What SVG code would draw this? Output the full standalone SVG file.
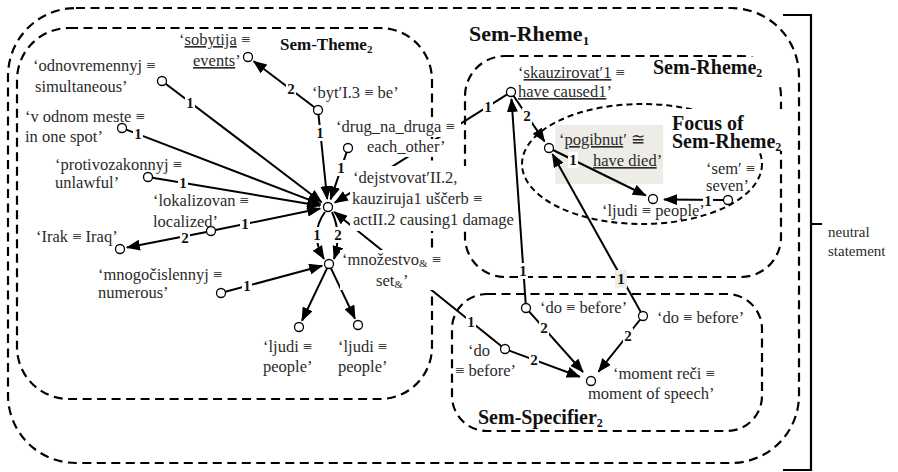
<svg xmlns="http://www.w3.org/2000/svg" width="898" height="472" viewBox="0 0 898 472">
  <defs>
    <marker id="arr" markerUnits="userSpaceOnUse" markerWidth="14" markerHeight="11" refX="13" refY="5.5" orient="auto">
      <path d="M0,0 L14,5.5 L0,11 z" fill="#000"/>
    </marker>
  </defs>
  <style>
    .region{fill:none;stroke:#000;stroke-width:2.2;stroke-dasharray:9 5.5}
    .focus{fill:none;stroke:#000;stroke-width:2;stroke-dasharray:6 4}
    .edge{fill:none;stroke:#000;stroke-width:2;marker-end:url(#arr)}
    .node{fill:#fff;stroke:#000;stroke-width:1.3}
    .lbl{font-family:"Liberation Serif","DejaVu Serif",serif;font-size:16.5px;fill:#2b2b2b}
    .num{font-family:"Liberation Serif","DejaVu Serif",serif;font-size:15px;font-weight:bold;fill:#111;text-anchor:middle}
    .title{font-family:"Liberation Serif","DejaVu Serif",serif;font-weight:bold;fill:#111}
    .small{font-family:"Liberation Serif","DejaVu Serif",serif;font-size:15px;fill:#2b2b2b}
    .bg{fill:#fff}
    .u{text-decoration:underline}
    .sub{font-size:11px}
  </style>

  <!-- communicative regions -->
  <g id="regions">
    <rect id="sem-rheme1" class="region" x="8" y="8" width="791" height="455" rx="68" ry="68"/>
    <rect id="sem-theme2" class="region" x="17" y="28" width="415" height="371" rx="52" ry="52"/>
    <rect id="sem-rheme2" class="region" x="465" y="56" width="316" height="221" rx="40" ry="40"/>
    <rect id="sem-specifier2" class="region" x="452" y="294" width="310" height="137" rx="35" ry="35"/>
    <ellipse id="focus" class="focus" cx="642" cy="164" rx="120" ry="60"/>
    <rect x="555" y="125" width="108" height="59" fill="#eeece6"/>
  </g>

  <!-- region titles -->
  <g id="titles">
    <text class="title" x="469" y="41" font-size="22">Sem-Rheme<tspan font-size="13" dy="4">1</tspan></text>
    <text class="title" x="280" y="50" font-size="17">Sem-Theme<tspan font-size="11" dy="3">2</tspan></text>
    <rect class="bg" x="648" y="57" width="138" height="27"/>
    <text class="title" x="653" y="74" font-size="20">Sem-Rheme<tspan font-size="12" dy="3">2</tspan></text>
    <rect class="bg" x="669" y="109" width="118" height="42"/>
    <text class="title" x="672" y="130" font-size="20">Focus of</text>
    <text class="title" x="672" y="148" font-size="20">Sem-Rheme<tspan font-size="12" dy="3">2</tspan></text>
    <text class="title" x="478" y="424" font-size="20">Sem-Specifier<tspan font-size="12" dy="3">2</tspan></text>
  </g>

  <!-- connectors -->
  <g id="connectors">
    <line class="edge" x1="165.6" y1="83.7" x2="321.6" y2="202.2"/>
    <line class="edge" x1="126.2" y1="129.6" x2="320.5" y2="204.1"/>
    <line class="edge" x1="152.4" y1="177.7" x2="320.1" y2="205.7"/>
    <line class="edge" x1="215.4" y1="230.1" x2="320.2" y2="208.6"/>
    <line class="edge" x1="206.6" y1="231.9" x2="126.9" y2="247.6"/>
    <line class="edge" x1="318.5" y1="114.5" x2="327.2" y2="199"/>
    <line class="edge" x1="346.6" y1="152.3" x2="330.6" y2="199.4"/>
    <line class="edge" x1="507.2" y1="94.4" x2="334.8" y2="202.7"/>
    <line class="edge" x1="314.4" y1="107.3" x2="253.6" y2="61.2"/>
    <path class="edge" d="M325,212 Q309,234 324,259"/>
    <path class="edge" d="M332,212 Q342,234 334,259"/>
    <line class="edge" x1="501.5" y1="346.2" x2="334.2" y2="212"/>
    <line class="edge" x1="225.3" y1="291.8" x2="322.2" y2="265.8"/>
    <line class="edge" x1="327.1" y1="268.1" x2="302" y2="320.7"/>
    <line class="edge" x1="330.9" y1="268.1" x2="355" y2="318.7"/>
    <line class="edge" x1="513.5" y1="95.7" x2="544.5" y2="141.4"/>
    <line class="edge" x1="553" y1="150" x2="645.8" y2="195.5"/>
    <line class="edge" x1="723.5" y1="200" x2="664" y2="199.5"/>
    <line class="edge" x1="525.7" y1="303.5" x2="511.5" y2="99"/>
    <line class="edge" x1="640.8" y1="312.1" x2="552.4" y2="154.1"/>
    <line class="edge" x1="529" y1="311.4" x2="583" y2="372"/>
    <line class="edge" x1="640.2" y1="319.5" x2="598.5" y2="371.6"/>
    <line class="edge" x1="509.2" y1="350.6" x2="579.8" y2="376.8"/>

    <!-- argument numbers -->
    <g class="elabels">
      <rect class="bg" x="185" y="95" width="10" height="16"/><text class="num" x="190" y="108">1</text>
      <rect class="bg" x="133" y="126" width="10" height="16"/><text class="num" x="138" y="139">1</text>
      <rect class="bg" x="178" y="175" width="10" height="16"/><text class="num" x="183" y="188">1</text>
      <rect class="bg" x="240" y="216" width="10" height="16"/><text class="num" x="245" y="229">1</text>
      <rect class="bg" x="180" y="231" width="10" height="15"/><text class="num" x="185" y="243">2</text>
      <rect class="bg" x="315" y="125" width="10" height="16"/><text class="num" x="320" y="138">1</text>
      <rect class="bg" x="336" y="160" width="10" height="16"/><text class="num" x="341" y="173">1</text>
      <rect class="bg" x="483" y="99" width="10" height="16"/><text class="num" x="488" y="112">1</text>
      <rect class="bg" x="286" y="81" width="10" height="16"/><text class="num" x="291" y="94">2</text>
      <rect class="bg" x="312" y="227" width="10" height="16"/><text class="num" x="317" y="240">1</text>
      <rect class="bg" x="333" y="227" width="10" height="16"/><text class="num" x="338" y="240">2</text>
      <rect class="bg" x="466" y="314" width="10" height="16"/><text class="num" x="471" y="327">1</text>
      <rect class="bg" x="242" y="278" width="10" height="16"/><text class="num" x="247" y="291">1</text>
      <rect class="bg" x="522" y="108" width="10" height="16"/><text class="num" x="527" y="121">2</text>
      <rect class="bg" x="568" y="152" width="10" height="16"/><text class="num" x="573" y="165">1</text>
      <rect class="bg" x="703" y="194" width="10" height="14"/><text class="num" x="708" y="206">1</text>
      <rect class="bg" x="518" y="263" width="10" height="16"/><text class="num" x="523" y="276">1</text>
      <rect x="615" y="270" width="12" height="18" fill="#eeece6"/><text class="num" x="621" y="284">1</text>
      <rect class="bg" x="539" y="320" width="10" height="16"/><text class="num" x="544" y="333">2</text>
      <rect class="bg" x="623" y="328" width="10" height="16"/><text class="num" x="628" y="341">2</text>
      <rect class="bg" x="529" y="352" width="10" height="16"/><text class="num" x="534" y="365">2</text>
    </g>
  </g>

  <!-- Sem-Theme nodes -->
  <g id="sobytija">
    <circle class="node" cx="248" cy="57" r="4.5"/>
    <text class="lbl" x="179" y="45">‘<tspan class="u">sobytija</tspan> ≡</text>
    <text class="lbl" x="193" y="66"><tspan class="u">events</tspan>’</text>
  </g>
  <g id="byt">
    <circle class="node" cx="318" cy="110" r="4.5"/>
    <text class="lbl" x="312" y="98">‘byt′I.3 ≡ be’</text>
  </g>
  <g id="odnovremennyj">
    <circle class="node" cx="162" cy="81" r="4.5"/>
    <text class="lbl" x="33" y="71">‘odnovremennyj ≡</text>
    <text class="lbl" x="35" y="92">simultaneous’</text>
  </g>
  <g id="v-odnom-meste">
    <circle class="node" cx="122" cy="128" r="4.5"/>
    <text class="lbl" x="25" y="122">‘v odnom meste ≡</text>
    <text class="lbl" x="25" y="142">in one spot’</text>
  </g>
  <g id="protivozakonnyj">
    <circle class="node" cx="148" cy="177" r="4.5"/>
    <text class="lbl" x="55" y="170">‘protivozakonnyj ≡</text>
    <text class="lbl" x="55" y="188">unlawful’</text>
  </g>
  <g id="lokalizovan">
    <circle class="node" cx="211" cy="231" r="4.5"/>
    <text class="lbl" x="153" y="206">‘lokalizovan ≡</text>
    <text class="lbl" x="153" y="227">localized’</text>
  </g>
  <g id="irak">
    <circle class="node" cx="120" cy="249" r="4.5"/>
    <text class="lbl" x="36" y="242">‘Irak ≡ Iraq’</text>
  </g>
  <g id="mnogochislennyj">
    <circle class="node" cx="221" cy="293" r="4.5"/>
    <text class="lbl" x="98" y="280">‘mnogočislennyj ≡</text>
    <text class="lbl" x="98" y="298">numerous’</text>
  </g>
  <g id="drug-na-druga">
    <rect class="bg" x="334" y="118" width="127" height="19"/>
    <rect class="bg" x="365" y="139" width="79" height="18"/>
    <circle class="node" cx="348" cy="148" r="4.5"/>
    <text class="lbl" x="336" y="132">‘drug_na_druga ≡</text>
    <text class="lbl" x="367" y="152">each_other’</text>
  </g>
  <g id="dejstvovat">
    <rect class="bg" x="350" y="166" width="164" height="65"/>
    <circle class="node" cx="328" cy="207" r="4.5"/>
    <text class="lbl" x="353" y="183">‘dejstvovat′II.2,</text>
    <text class="lbl" x="352" y="204">kauziruja1 uščerb ≡</text>
    <text class="lbl" x="353" y="225">actII.2 causing1 damage</text>
  </g>
  <g id="mnozhestvo">
    <rect class="bg" x="340" y="250" width="98" height="40"/>
    <circle class="node" cx="329" cy="264" r="4.5"/>
    <text class="lbl" x="342" y="265">‘množestvo<tspan class="sub" dy="2">&amp;</tspan><tspan dy="-2"> ≡</tspan></text>
    <text class="lbl" x="376" y="286">set<tspan class="sub" dy="2">&amp;</tspan><tspan dy="-2">’</tspan></text>
  </g>
  <g id="ljudi-1">
    <circle class="node" cx="299" cy="327" r="4.5"/>
    <text class="lbl" x="263" y="352">‘ljudi ≡</text>
    <text class="lbl" x="263" y="372">people’</text>
  </g>
  <g id="ljudi-2">
    <circle class="node" cx="358" cy="325" r="4.5"/>
    <text class="lbl" x="338" y="352">‘ljudi ≡</text>
    <text class="lbl" x="338" y="372">people’</text>
  </g>

  <!-- Sem-Rheme nodes -->
  <g id="skauzirovat">
    <circle class="node" cx="511" cy="92" r="4.5"/>
    <text class="lbl" x="518" y="78">‘<tspan class="u">skauzirovat′1</tspan> ≡</text>
    <text class="lbl" x="518" y="97"><tspan class="u">have caused1</tspan>’</text>
  </g>
  <g id="pogibnut">
    <circle class="node" cx="549" cy="148" r="4.5"/>
    <text class="lbl" x="559" y="145">‘<tspan class="u">pogibnut</tspan>′ ≅</text>
    <text class="lbl" x="593" y="166"><tspan class="u">have died</tspan>’</text>
  </g>
  <g id="ljudi-3">
    <circle class="node" cx="653" cy="199" r="4.5"/>
    <text class="lbl" x="602" y="216">‘ljudi ≡ people’</text>
  </g>
  <g id="sem">
    <circle class="node" cx="728" cy="200" r="4.5"/>
    <text class="lbl" x="706" y="174">‘sem′ ≡</text>
    <text class="lbl" x="706" y="191">seven’</text>
  </g>

  <!-- Sem-Specifier nodes -->
  <g id="do-1">
    <circle class="node" cx="526" cy="308" r="4.5"/>
    <text class="lbl" x="540" y="313">‘do ≡ before’</text>
  </g>
  <g id="do-2">
    <circle class="node" cx="643" cy="316" r="4.5"/>
    <text class="lbl" x="657" y="323">‘do ≡ before’</text>
  </g>
  <g id="do-3">
    <circle class="node" cx="505" cy="349" r="4.5"/>
    <text class="lbl" x="468" y="356">‘do</text>
    <text class="lbl" x="455" y="376">≡ before’</text>
  </g>
  <g id="moment-rechi">
    <circle class="node" cx="591" cy="381" r="4.5"/>
    <text class="lbl" x="613" y="379">‘moment reči ≡</text>
    <text class="lbl" x="588" y="399">moment of speech’</text>
  </g>

  <!-- bracket -->
  <g id="neutral-statement">
    <path d="M783,15 H811 V470 H783 M811,224 H822" fill="none" stroke="#000" stroke-width="2.2"/>
    <text class="small" x="828" y="237">neutral</text>
    <text class="small" x="828" y="256">statement</text>
  </g>
</svg>
